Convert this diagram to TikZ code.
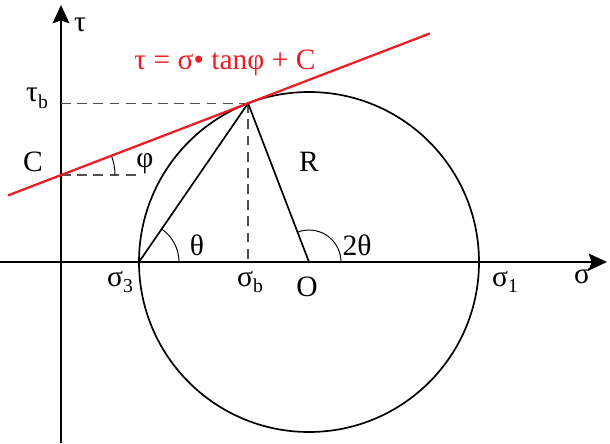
\documentclass[tikz,border=0pt]{standalone}
\usepackage{fontspec}
\setmainfont{Liberation Serif}
\usepackage{tikz}
\usetikzlibrary{arrows.meta, calc, positioning}
\definecolor{LineRed}{RGB}{237,28,36}
\definecolor{DashGray}{RGB}{80,80,80}
\tikzset{
  >=Stealth,
  % Assi e linee
  axis/.style={line width=1.4pt,-{Stealth[length=13pt,width=12pt,inset=2pt]}},
  circle line/.style={line width=1.2pt},
  chord/.style={line width=1.2pt},
  guide/.style={DashGray,line width=0.9pt,dash pattern=on 7pt off 4.5pt},
  tangent/.style={LineRed,line width=1.6pt},
  angle arc/.style={line width=0.7pt},
  % Etichette
  lbl/.style={inner sep=0pt}
}
\newcommand{\lowidx}[1]{\raisebox{-0.5ex}{\fontsize{14}{14}\selectfont #1}}

\begin{document}
\begin{tikzpicture}[font=\fontsize{21}{24}\selectfont]
    \useasboundingbox (-1.525,-4.525) rectangle (13.725,6.55);
    % punti principali
    \coordinate (Orig) at (0,0);
    \coordinate (O) at (6.2,0);
    \coordinate (S3) at (1.95,0);
    \coordinate (S1) at (10.45,0);
    \coordinate (T) at ($(O)+(111:4.25)$);
    \coordinate (Sb) at (T |- Orig);
    \coordinate (Tb) at (T -| Orig);
    \coordinate (C) at (0,2.173);
    \coordinate (Cend) at (2,2.173);
    \coordinate (Lstart) at ($(C)+(201:1.42)$);
    \coordinate (Lend) at ($(C)+(21:9.88)$);
    \coordinate (Xstart) at (-1.525,0);
    \coordinate (Xend) at (13.65,0);
    \coordinate (Ystart) at (0,-4.525);
    \coordinate (Yend) at (0,6.425);
    % assi
    \draw[axis] (Xstart) -- (Xend);
    \draw[axis] (Ystart) -- (Yend);
    % cerchio di Mohr
    \draw[circle line] (O) circle (4.25);
    % linee tratteggiate
    \draw[guide] (Tb) -- (T);
    \draw[guide] (T) -- (Sb);
    \draw[guide] (C) -- (Cend);
    % corde e raggio
    \draw[chord] (S3) -- (T) -- (O);
    % angoli
    \draw[angle arc] ($(S3)+(1,0)$) arc (0:55.5:1);
    \draw[angle arc] ($(O)+(0.8,0)$) arc (0:111:0.8);
    \draw[angle arc] ($(C)+(1.35,0)$) arc (0:21:1.35);
    % retta di rottura
    \draw[tangent] (Lstart) -- (Lend);
    % etichette
    \node[lbl] (tau) at (0.475,5.925) {τ};
    \node[lbl] (sig) at (13.025,-0.35) {σ};
    \node[lbl] (taub) at (-0.6,4.1) {τ\lowidx{b}};
    \node[lbl] (clbl) at (-0.7,2.5) {C};
    \node[lbl] (phi) at (2.1,2.45) {φ};
    \node[lbl] (rlbl) at (6.2,2.5) {R};
    \node[lbl] (th) at (3.4,0.425) {θ};
    \node[lbl] (th2) at (7.4,0.425) {2θ};
    \node[lbl] (s3) at (1.475,-0.5) {σ\lowidx{3}};
    \node[lbl] (sb) at (4.725,-0.5) {σ\lowidx{b}};
    \node[lbl] (olbl) at (6.15,-0.625) {O};
    \node[lbl] (s1) at (11.1,-0.5) {σ\lowidx{1}};
    \node[lbl,text=LineRed] (eq) at (4.1,4.975) {τ = σ• tanφ + C};
\end{tikzpicture}
\end{document}
